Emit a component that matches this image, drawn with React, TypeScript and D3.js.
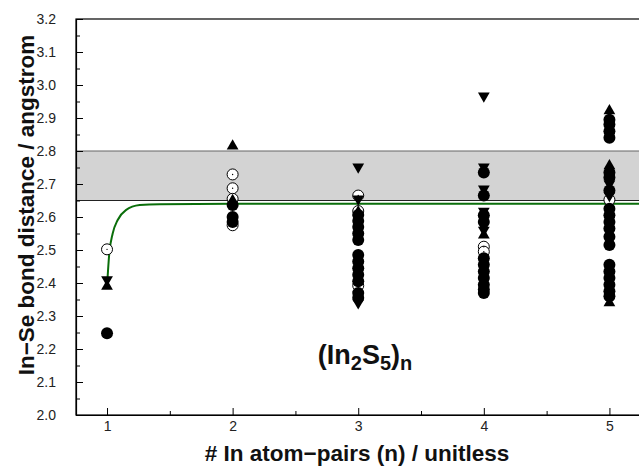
import React, { useEffect, useRef } from "react";
import * as d3 from "d3";

// bond distances (n, angstrom) per marker style
const filledCircle: [number, number][] = [
  [1, 2.248],
  [2, 2.636], [2, 2.6], [2, 2.585],
  [3, 2.606], [3, 2.588], [3, 2.57], [3, 2.55], [3, 2.53], [3, 2.485], [3, 2.465],
  [3, 2.445], [3, 2.425], [3, 2.405], [3, 2.37], [3, 2.355],
  [4, 2.735], [4, 2.665], [4, 2.605], [4, 2.585], [4, 2.475], [4, 2.455], [4, 2.435],
  [4, 2.415], [4, 2.395], [4, 2.38], [4, 2.37],
  [5, 2.895], [5, 2.88], [5, 2.86], [5, 2.84], [5, 2.735], [5, 2.72], [5, 2.68],
  [5, 2.625], [5, 2.605], [5, 2.585], [5, 2.565], [5, 2.54], [5, 2.515], [5, 2.455],
  [5, 2.435], [5, 2.415], [5, 2.395], [5, 2.375], [5, 2.36],
];
const openCircle: [number, number][] = [
  [1, 2.502], [2, 2.729], [2, 2.687], [2, 2.655], [2, 2.575],
  [3, 2.665], [3, 2.618], [3, 2.392], [4, 2.51], [4, 2.495], [5, 2.652],
];
const triUp: [number, number][] = [
  [1, 2.39], [2, 2.815], [2, 2.65], [3, 2.615], [4, 2.545],
  [5, 2.922], [5, 2.755], [5, 2.34],
];
const triDown: [number, number][] = [
  [1, 2.41], [3, 2.752], [3, 2.655], [3, 2.365], [3, 2.34],
  [4, 2.967], [4, 2.752], [4, 2.685], [4, 2.618], [4, 2.595], [4, 2.56],
  [5, 2.7], [5, 2.665],
];
// fitted curve
const fitCurve: [number, number][] = [
  [1.0, 2.389], [1.018, 2.49], [1.045, 2.55], [1.085, 2.591], [1.15, 2.621],
  [1.26, 2.636], [1.42, 2.639], [2, 2.64], [5.25, 2.64],
];
const bandRange = [2.65, 2.8];
const xTicks = [1, 2, 3, 4, 5];
const yTicks = d3.range(2.0, 3.21, 0.1);

export default function App() {
  const ref = useRef<SVGSVGElement>(null);

  useEffect(() => {
    const width = 639,
      height = 466;
    const left = 76,
      top = 19,
      bottom = 415;
    const svg = d3.select(ref.current);
    svg.selectAll("*").remove();

    const x = d3.scaleLinear().domain([0.753, 5.25]).range([left, left + 4.497 * 125.6]);
    const y = d3.scaleLinear().domain([2.0, 3.2]).range([bottom, top]);
    const right = x(5.25);

    const font = "'Liberation Sans', Arial, sans-serif";

    // shaded band
    svg
      .append("rect")
      .attr("x", left)
      .attr("y", y(bandRange[1]))
      .attr("width", right - left)
      .attr("height", y(bandRange[0]) - y(bandRange[1]))
      .attr("fill", "#d3d3d3");
    svg
      .append("line")
      .attr("x1", left)
      .attr("x2", right)
      .attr("y1", y(bandRange[1]))
      .attr("y2", y(bandRange[1]))
      .attr("stroke", "#666")
      .attr("stroke-width", 1.2);
    svg
      .append("line")
      .attr("x1", left)
      .attr("x2", right)
      .attr("y1", y(bandRange[0]))
      .attr("y2", y(bandRange[0]))
      .attr("stroke", "#222")
      .attr("stroke-width", 1.2);

    // frame
    svg
      .append("rect")
      .attr("x", left)
      .attr("y", top)
      .attr("width", right - left)
      .attr("height", bottom - top)
      .attr("fill", "none")
      .attr("stroke", "#000")
      .attr("stroke-width", 1.2);

    // axes
    const yAxis = svg
      .append("g")
      .attr("transform", `translate(${left},0)`)
      .call(
        d3
          .axisLeft(y)
          .tickValues(yTicks)
          .tickFormat(d3.format(".1f"))
          .tickSizeInner(-7)
          .tickSizeOuter(0)
          .tickPadding(20)
      );
    svg
      .append("g")
      .attr("transform", `translate(${left},0)`)
      .call(
        d3
          .axisLeft(y)
          .tickValues(d3.range(2.05, 3.2, 0.1))
          .tickFormat(() => "")
          .tickSizeInner(-4)
          .tickSizeOuter(0)
      )
      .select(".domain")
      .remove();
    const xAxis = svg
      .append("g")
      .attr("transform", `translate(0,${bottom})`)
      .call(
        d3
          .axisBottom(x)
          .tickValues(xTicks)
          .tickFormat(d3.format("d"))
          .tickSizeInner(-7)
          .tickSizeOuter(0)
          .tickPadding(6)
      );
    svg
      .append("g")
      .attr("transform", `translate(0,${bottom})`)
      .call(
        d3
          .axisBottom(x)
          .tickValues([1.5, 2.5, 3.5, 4.5])
          .tickFormat(() => "")
          .tickSizeInner(-4)
          .tickSizeOuter(0)
      )
      .select(".domain")
      .remove();
    [yAxis, xAxis].forEach((g) => {
      g.select(".domain").attr("stroke-width", 1.2);
      g.selectAll("text")
        .attr("font-family", font)
        .attr("font-size", 14)
        .attr("fill", "#222");
    });

    // fit curve
    const line = d3
      .line<[number, number]>()
      .x((d) => x(d[0]))
      .y((d) => y(d[1]))
      .curve(d3.curveMonotoneX);
    svg
      .append("path")
      .datum(fitCurve)
      .attr("fill", "none")
      .attr("stroke", "#0a6e0a")
      .attr("stroke-width", 2)
      .attr("d", line);

    // markers
    svg
      .append("g")
      .selectAll("circle")
      .data(openCircle)
      .join("circle")
      .attr("cx", (d) => x(d[0]))
      .attr("cy", (d) => y(d[1]))
      .attr("r", 5.5)
      .attr("fill", "#fff")
      .attr("stroke", "#000")
      .attr("stroke-width", 1);
    svg
      .append("g")
      .selectAll("circle")
      .data(openCircle)
      .join("circle")
      .attr("cx", (d) => x(d[0]))
      .attr("cy", (d) => y(d[1]))
      .attr("r", 0.7)
      .attr("fill", "#000");
    svg
      .append("g")
      .selectAll("circle")
      .data(filledCircle)
      .join("circle")
      .attr("cx", (d) => x(d[0]))
      .attr("cy", (d) => y(d[1]))
      .attr("r", 6)
      .attr("fill", "#000");
    const tri = d3.symbol().type(d3.symbolTriangle).size(60);
    svg
      .append("g")
      .selectAll("path")
      .data(triUp)
      .join("path")
      .attr("d", tri())
      .attr("transform", (d) => `translate(${x(d[0])},${y(d[1])})`)
      .attr("fill", "#000");
    svg
      .append("g")
      .selectAll("path")
      .data(triDown)
      .join("path")
      .attr("d", tri())
      .attr("transform", (d) => `translate(${x(d[0])},${y(d[1])}) rotate(180)`)
      .attr("fill", "#000");

    // compound label
    const label = svg
      .append("text")
      .attr("x", 365)
      .attr("y", 364)
      .attr("text-anchor", "middle")
      .attr("font-family", font)
      .attr("font-weight", "bold")
      .attr("font-size", 27)
      .attr("fill", "#111");
    label.append("tspan").text("(In");
    label.append("tspan").attr("font-size", 20).attr("dy", 6).text("2");
    label.append("tspan").attr("dy", -6).text("S");
    label.append("tspan").attr("font-size", 20).attr("dy", 6).text("5");
    label.append("tspan").attr("dy", -6).text(")");
    label.append("tspan").attr("font-size", 20).attr("dy", 6).text("n");

    // axis titles
    svg
      .append("text")
      .attr("x", 357)
      .attr("y", 461)
      .attr("text-anchor", "middle")
      .attr("font-family", font)
      .attr("font-weight", "bold")
      .attr("font-size", 22.5)
      .attr("fill", "#111")
      .text("# In atom\u2212pairs (n) / unitless");
    svg
      .append("text")
      .attr("transform", `translate(34,205) rotate(-90)`)
      .attr("text-anchor", "middle")
      .attr("font-family", font)
      .attr("font-weight", "bold")
      .attr("font-size", 22.5)
      .attr("fill", "#111")
      .text("In\u2212Se bond distance / angstrom");

    svg.attr("width", width).attr("height", height);
  }, []);

  return (
    <svg
      ref={ref}
      width={639}
      height={466}
      style={{ position: "absolute", left: 0, top: 0, background: "#fff" }}
    />
  );
}
